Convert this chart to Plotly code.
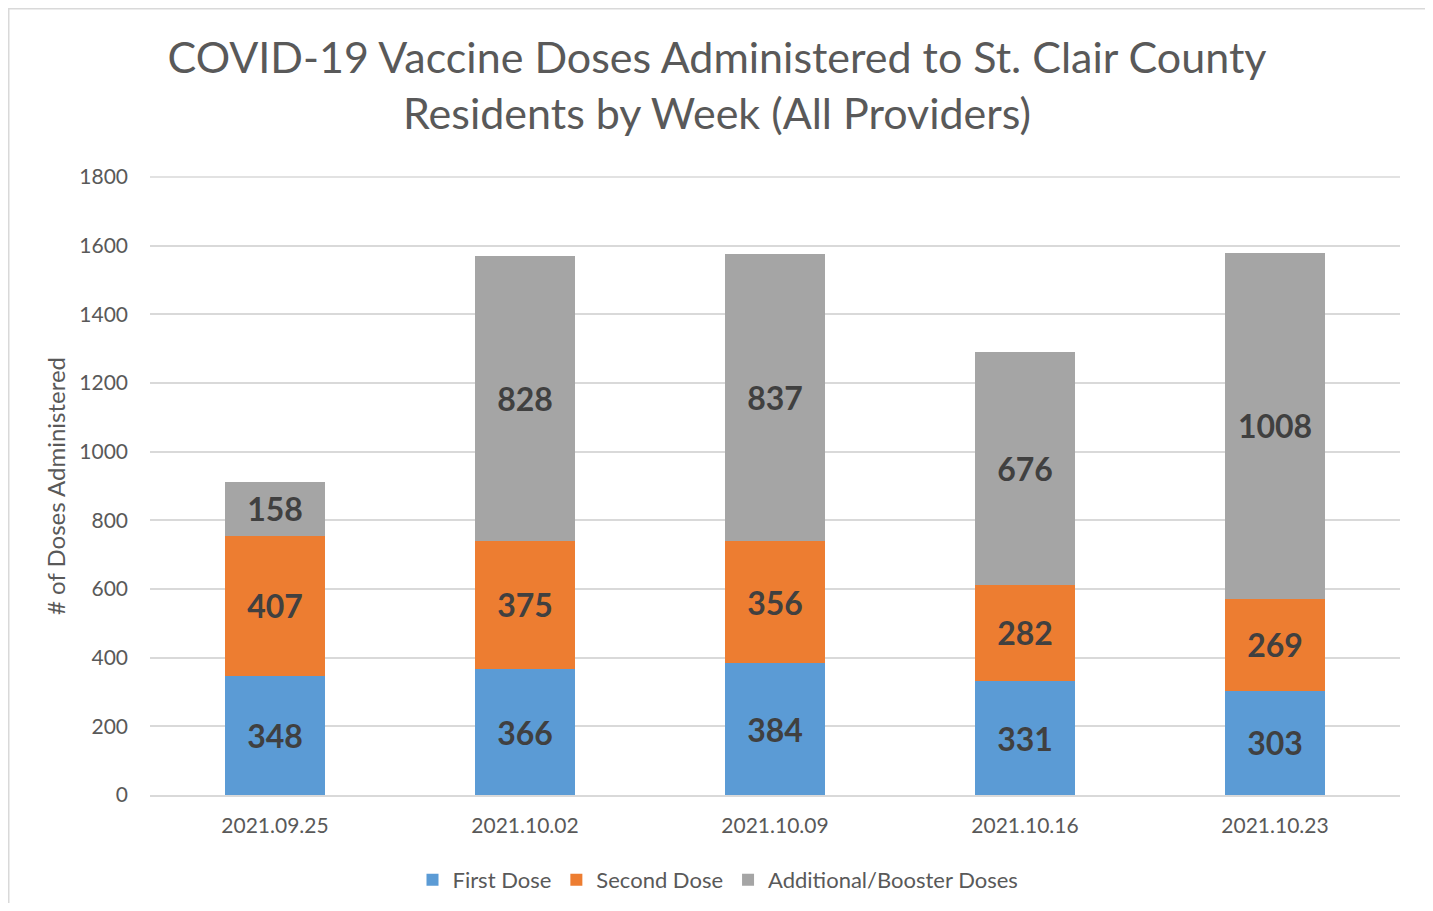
import plotly.graph_objects as go

weeks = ["2021.09.25", "2021.10.02", "2021.10.09", "2021.10.16", "2021.10.23"]
first_dose = [348, 366, 384, 331, 303]
second_dose = [407, 375, 356, 282, 269]
booster = [158, 828, 837, 676, 1008]

series = [
    ("First Dose", first_dose, "#5B9BD5"),
    ("Second Dose", second_dose, "#ED7D31"),
    ("Additional/Booster Doses", booster, "#A5A5A5"),
]

FONT = "Lato, 'Open Sans', sans-serif"
GRID = "#D9D9D9"

fig = go.Figure()
for name, vals, col in series:
    fig.add_trace(go.Bar(
        name=name, x=weeks, y=vals, marker=dict(color=col, line=dict(width=0)),
        text=[str(v) for v in vals], textposition="inside", insidetextanchor="middle",
        textangle=0, constraintext="none",
        textfont=dict(family=FONT, size=32, color="#404040", weight="bold"),
        hoverinfo="x+y+name",
    ))

OFF = 8  # page body offset
L, R, T, B = 150 - OFF, 1400 - OFF, 177 - OFF, 795 - OFF
W, H = 1425, 895
pw, ph = R - L, B - T

fig.update_layout(
    barmode="stack", bargap=0.6,
    width=W, height=H,
    margin=dict(l=L, r=W - R, t=T, b=H - B, autoexpand=False),
    paper_bgcolor="white", plot_bgcolor="white",
    font=dict(family=FONT, color="#595959", size=21),
    title=dict(
        text="COVID-19 Vaccine Doses Administered to St. Clair County<br>Residents by Week (All Providers)",
        x=(717 - OFF) / W, xanchor="center", y=1 - 65 / H, yanchor="middle", yref="container",
        font=dict(family=FONT, size=43, color="#595959"),
    ),
    showlegend=True,
    legend=dict(orientation="h", x=(718 - OFF - L) / pw, xanchor="center",
                y=(B - (880 - OFF)) / ph, yanchor="middle",
                font=dict(family=FONT, size=22, color="#595959"), traceorder="normal",
                itemwidth=30),
    xaxis=dict(showgrid=False, showline=True, linecolor=GRID, linewidth=1.5,
               ticks="", tickfont=dict(size=21, color="#595959"), ticklabelstandoff=11),
    yaxis=dict(range=[0, 1800], dtick=200, tick0=0, showgrid=True, gridcolor=GRID,
               gridwidth=1.5, zeroline=False, showline=False, ticks="",
               tickfont=dict(size=21, color="#595959"), ticklabelstandoff=21,
               title=dict(text="# of Doses Administered", standoff=6,
                          font=dict(size=24, color="#595959"))),
    shapes=[
        dict(type="rect", xref="paper", yref="paper",
             x0=(0.75 - L) / pw, x1=(1422 - L) / pw,
             y0=(B - 930) / ph, y1=(B - 0.75) / ph,
             line=dict(color=GRID, width=1.5), fillcolor="rgba(0,0,0,0)", layer="below"),
        dict(type="line", xref="paper", yref="paper", x0=0, x1=1, y0=1, y1=1,
             line=dict(color=GRID, width=1.5), layer="below"),
    ],
)

fig.write_html("out.html")
